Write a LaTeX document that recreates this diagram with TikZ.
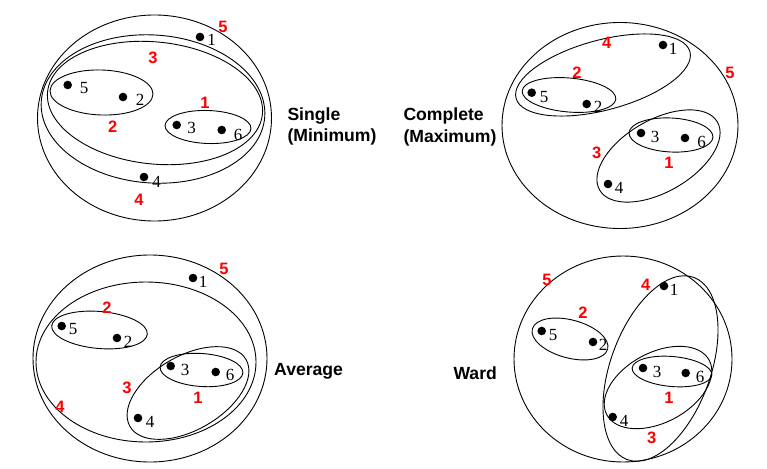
\documentclass[tikz,border=0pt]{standalone}
\usepackage{fontspec}
\setmainfont{Liberation Serif}
\setsansfont{Liberation Sans}
\begin{document}
\begin{tikzpicture}[x=1pt,y=-1pt,
  dot/.style={circle,fill=black,inner sep=0pt,minimum size=8.6pt},
  num/.style={font=\fontsize{17}{17}\selectfont,inner sep=0pt},
  rnum/.style={font=\sffamily\bfseries\fontsize{16.5}{17}\selectfont,text=red,inner sep=0pt},
  meth/.style={font=\sffamily\bfseries\fontsize{17.6}{20}\selectfont,anchor=base west,inner sep=0pt},
  clu/.style={line width=0.9pt}]
\useasboundingbox (0,0) rectangle (767,468);

% ---------------- Single ----------------
\draw[clu] (154.5,118) ellipse [x radius=117,y radius=103];
\draw[clu,rotate around={-4:(153,109)}] (153,109) ellipse [x radius=112,y radius=74];
\draw[clu,rotate around={-6:(155,103)}] (155,103) ellipse [x radius=108,y radius=61];
\draw[clu,rotate around={-2:(101.5,92.5)}] (101.5,92.5) ellipse [x radius=51.5,y radius=22.5];
\draw[clu,rotate around={-2:(208,127)}] (208,127) ellipse [x radius=43,y radius=16.5];
\node[dot] (s1) at (200,37) {};   \node[num] (s1l) at (211.7,40) {1};
\node[dot] (s5) at (67.7,85) {};  \node[num] (s5l) at (84,88) {5};
\node[dot] (s2) at (123,97) {};   \node[num] (s2l) at (140,100) {2};
\node[dot] (s3) at (176.7,125) {};\node[num] (s3l) at (191.7,128) {3};
\node[dot] (s6) at (221.7,130) {};\node[num] (s6l) at (238,135) {6};
\node[dot] (s4) at (144,177) {};  \node[num] (s4l) at (156.7,181.7) {4};
\node[rnum] (sr5) at (223,27) {5};
\node[rnum] (sr3) at (153,58) {3};
\node[rnum] (sr2) at (112.7,127) {2};
\node[rnum] (sr1) at (205,103) {1};
\node[rnum] (sr4) at (139,200) {4};
\node[meth] (st1) at (287.3,120) {Single};
\node[meth] (st2) at (287.3,141) {(Minimum)};

% ---------------- Complete ----------------
\draw[clu] (620,125.5) ellipse [x radius=118,y radius=103];
\draw[clu,rotate around={15:(603,75)}] (603,75) ellipse [x radius=90,y radius=35];
\draw[clu,rotate around={-5:(569,95)}] (569,95) ellipse [x radius=47,y radius=17];
\draw[clu,rotate around={30:(658.5,156)}] (658.5,156) ellipse [x radius=68,y radius=36];
\draw[clu,rotate around={-3:(671,135)}] (671,135) ellipse [x radius=42,y radius=17];
\node[dot] (c1) at (663,45) {};    \node[num] (c1l) at (673,49) {1};
\node[dot] (c5) at (531.7,92.7) {};\node[num] (c5l) at (544,97) {5};
\node[dot] (c2) at (586.7,104) {}; \node[num] (c2l) at (598,107) {2};
\node[dot] (c3) at (641,133) {};   \node[num] (c3l) at (655,137) {3};
\node[dot] (c6) at (685,138) {};   \node[num] (c6l) at (701.7,142) {6};
\node[dot] (c4) at (608,184) {};   \node[num] (c4l) at (619,188) {4};
\node[rnum] (cr4) at (606.7,43) {4};
\node[rnum] (cr2) at (577,73) {2};
\node[rnum] (cr5) at (730,73) {5};
\node[rnum] (cr3) at (596.7,153) {3};
\node[rnum] (cr1) at (669,163) {1};
\node[meth] (ct1) at (403.3,120) {Complete};
\node[meth] (ct2) at (403.3,142) {(Maximum)};

% ---------------- Average ----------------
\draw[clu] (150,358.5) ellipse [x radius=117,y radius=103.5];
\draw[clu] (146,362) ellipse [x radius=110,y radius=80];
\draw[clu,rotate around={-5:(99.5,330)}] (99.5,330) ellipse [x radius=48,y radius=18.5];
\draw[clu,rotate around={30:(188,393)}] (188,393) ellipse [x radius=67,y radius=37];
\draw[clu,rotate around={-4:(201.5,370)}] (201.5,370) ellipse [x radius=41.5,y radius=16.5];
\node[dot] (a1) at (193,278) {};   \node[num] (a1l) at (203,282) {1};
\node[dot] (a5) at (61.7,326) {};  \node[num] (a5l) at (73,329) {5};
\node[dot] (a2) at (117,338) {};   \node[num] (a2l) at (128,342) {2};
\node[dot] (a3) at (170.7,366) {}; \node[num] (a3l) at (185,370) {3};
\node[dot] (a6) at (215.7,372) {}; \node[num] (a6l) at (230,375) {6};
\node[dot] (a4) at (138,418) {};   \node[num] (a4l) at (150,422) {4};
\node[rnum] (ar5) at (224,269) {5};
\node[rnum] (ar2) at (107,308) {2};
\node[rnum] (ar3) at (127,388) {3};
\node[rnum] (ar1) at (198,398) {1};
\node[rnum] (ar4) at (60,407) {4};
\node[meth] (at1) at (274,375) {Average};

% ---------------- Ward ----------------
\draw[clu] (623,359) ellipse [x radius=109,y radius=103];
\draw[clu,rotate around={-15:(570,339)}] (570,339) ellipse [x radius=39,y radius=19];
\draw[clu,rotate around={70:(660.5,368.5)}] (660.5,368.5) ellipse [x radius=97,y radius=50];
\draw[clu,rotate around={28:(658,387.5)}] (658,387.5) ellipse [x radius=58,y radius=35];
\draw[clu,rotate around={-5:(672,371.5)}] (672,371.5) ellipse [x radius=40,y radius=15];
\node[dot] (w1) at (664,286) {};   \node[num] (w1l) at (674,290) {1};
\node[dot] (w5) at (541.7,331) {}; \node[num] (w5l) at (553,335) {5};
\node[dot] (w2) at (593,342) {};   \node[num] (w2l) at (603,345) {2};
\node[dot] (w3) at (643,368) {};   \node[num] (w3l) at (657,372) {3};
\node[dot] (w6) at (685.7,373) {}; \node[num] (w6l) at (700,377) {6};
\node[dot] (w4) at (612.7,417) {}; \node[num] (w4l) at (624,421) {4};
\node[rnum] (wr5) at (547,280) {5};
\node[rnum] (wr2) at (583,313) {2};
\node[rnum] (wr4) at (645.7,285) {4};
\node[rnum] (wr1) at (669,398) {1};
\node[rnum] (wr3) at (651.7,438) {3};
\node[meth] (wt1) at (453.3,379) {Ward};
\end{tikzpicture}
\end{document}
